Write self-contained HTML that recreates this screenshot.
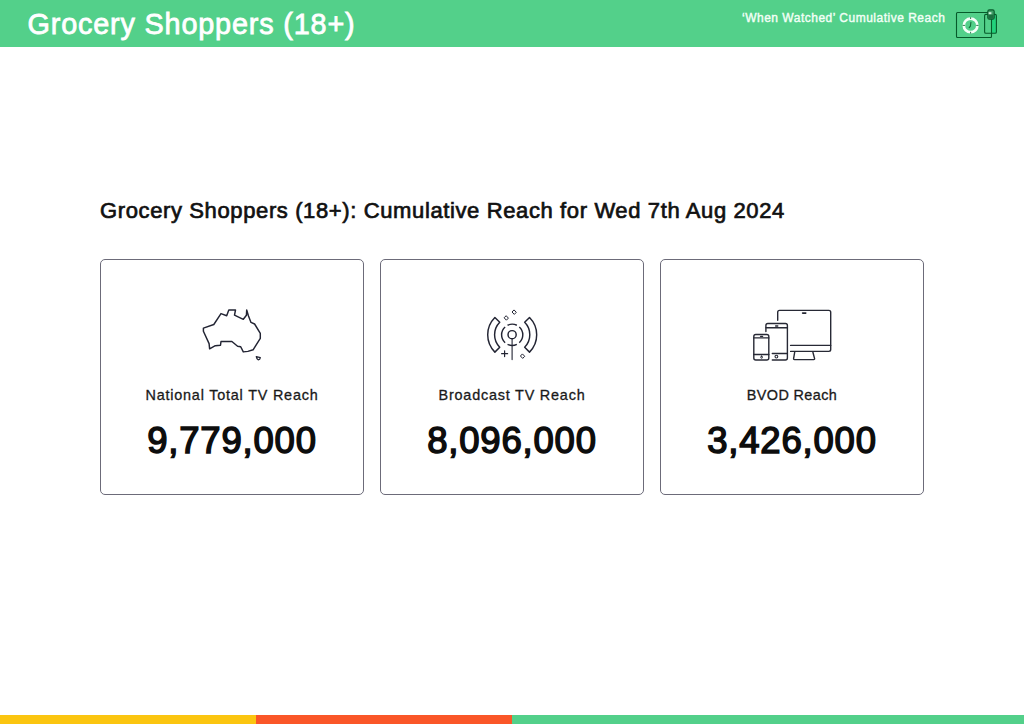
<!DOCTYPE html>
<html>
<head>
<meta charset="utf-8">
<style>
html,body{margin:0;padding:0;background:#fff;}
body{width:1024px;height:725px;position:relative;overflow:hidden;font-family:"Liberation Sans",Arial,sans-serif;}
.hdr{position:absolute;left:0;top:0;width:1024px;height:47px;background:#53d08a;}
.ttl{position:absolute;left:27.5px;top:5.6px;letter-spacing:0.83px;font-size:28.8px;line-height:36px;color:#fff;-webkit-text-stroke:0.8px #fff;white-space:nowrap;}
.sub{position:absolute;left:742px;top:11.3px;font-size:12px;line-height:14px;color:#f2fff6;letter-spacing:0.5px;-webkit-text-stroke:0.4px #f2fff6;white-space:nowrap;}
.hicon{position:absolute;left:950px;top:5px;}
.h2{position:absolute;left:100px;top:198.4px;font-size:22px;line-height:26px;color:#111;letter-spacing:0.62px;-webkit-text-stroke:0.7px #111;white-space:nowrap;}
.card{position:absolute;top:259px;width:262px;height:234px;border:1px solid #6c6b79;border-radius:5px;}
.c1{left:100px}.c2{left:380px}.c3{left:660px}
.lbl{position:absolute;left:0;width:262px;top:125.6px;text-align:center;font-size:14.4px;line-height:18px;color:#1a1a1a;letter-spacing:0.8px;-webkit-text-stroke:0.3px #1a1a1a;white-space:nowrap;}
.num{position:absolute;left:0;width:262px;top:160px;text-align:center;font-size:36.5px;line-height:42px;color:#0d0d0d;letter-spacing:0.8px;-webkit-text-stroke:1.5px #0d0d0d;white-space:nowrap;}
.ico{position:absolute;left:0;top:0;}
.bar{position:absolute;top:715px;height:9px;}
</style>
</head>
<body>
<div class="hdr">
  <div class="ttl">Grocery Shoppers (18+)</div>
  <div class="sub">‘When Watched’ Cumulative Reach</div>
  <svg class="hicon" width="60" height="40" viewBox="950 5 60 40">
    <rect x="991.8" y="15" width="4.6" height="18" fill="#22d27c"/>
    <rect x="956.5" y="12.5" width="35" height="25" rx="1" fill="none" stroke="#075a2b" stroke-width="1.1"/>
    <circle cx="970.6" cy="25.4" r="6.8" fill="none" stroke="#f6fff9" stroke-width="2.7"/>
    <path d="M962.6 25.4h2.4M976.2 25.4h2.4M970.6 17.2v1.8M970.6 31.8v1.8" stroke="#1b6b3c" stroke-width="0.9"/>
    <path d="M970.9 22.3L970.4 26.2L969.2 27.6" stroke="#136a36" stroke-width="1.1" fill="none" stroke-linecap="round"/>
    <rect x="984.6" y="14.4" width="11.8" height="18.9" rx="1.3" fill="none" stroke="#075a2b" stroke-width="1.1"/>
    <rect x="987.8" y="9.9" width="6.4" height="9.4" rx="1.6" fill="#3f9d66" stroke="#075a2b" stroke-width="1.1"/>
    <rect x="988.4" y="14.6" width="5.2" height="4.2" fill="#1c6f40"/>
    <rect x="988.6" y="12.2" width="2.8" height="2" fill="#e6fff0" opacity="0.85"/>
  </svg>
</div>

<div class="h2">Grocery Shoppers (18+): Cumulative Reach for Wed 7th Aug 2024</div>

<div class="card c1">
  <svg class="ico" width="262" height="120" viewBox="101 260 262 120">
    <path d="M203.4 328.1L213.8 324.5L221 313.6L226.7 315.7L228.8 310L235.5 310L234.5 315.2L243.3 319.3L246.4 315.2L246.7 310L248.4 315.7L251 322.4L254.6 324L260.3 333.3L260.3 338.4L253.1 349.8L247.9 351.4L243.3 351.9L240.7 346.7L237.6 346.2L231.9 341.5L221 341.5L220.5 345.2L215.3 345.7L209.6 348.8L209.1 343.6L203.4 331.2Z" fill="none" stroke="#222433" stroke-width="1.45" stroke-linejoin="round"/>
    <path d="M256.3 356.7L260.3 357.7Q260 359.8 258.3 359.8Q256.7 359.3 256.3 356.7Z" fill="none" stroke="#222433" stroke-width="1.3" stroke-linejoin="round"/>
  </svg>
  <div class="lbl">National Total TV Reach</div>
  <div class="num">9,779,000</div>
</div>

<div class="card c2">
  <svg class="ico" width="262" height="120" viewBox="381 260 262 120">
    <g fill="none" stroke="#222433" stroke-width="1.45" stroke-linejoin="round" stroke-linecap="round">
      <circle cx="512.1" cy="334.7" r="4.1"/>
      <path d="M512.1 338.8V359.6" stroke-width="1.1"/>
      <path stroke-linecap="butt" d="M507.55 325.27A10.6 10.6 0 0 1 516.85 325.27M519.29 326.92A10.6 10.6 0 0 1 519.29 342.68M516.85 344.33A10.6 10.6 0 0 1 507.55 344.33M505.11 342.68A10.6 10.6 0 0 1 505.11 326.92"/>
      <path d="M529.52 317.48A24.5 24.5 0 0 1 529.52 352.12L524.65 347.25A17.6 17.6 0 0 0 524.65 322.35Z"/>
      <path d="M494.88 352.12A24.5 24.5 0 0 1 494.88 317.48L499.75 322.35A17.6 17.6 0 0 0 499.75 347.25Z"/>
      <path d="M514.3 310.2L516.3 312.3L514.3 314.4L512.3 312.3Z" stroke-width="1"/>
      <path d="M506.4 316L508.4 318.1L506.4 320.2L504.4 318.1Z" stroke-width="1"/>
      <path d="M522.7 354.2L524.7 356.3L522.7 358.4L520.7 356.3Z" stroke-width="1"/>
      <path d="M501.6 353.7H507.6M504.6 350.8V356.6" stroke-width="1.2"/>
    </g>
  </svg>
  <div class="lbl">Broadcast TV Reach</div>
  <div class="num">8,096,000</div>
</div>

<div class="card c3">
  <svg class="ico" width="262" height="120" viewBox="661 260 262 120">
    <g fill="none" stroke="#272935" stroke-width="1.4" stroke-linejoin="round" stroke-linecap="round">
      <path d="M777.7 320.3V312.2Q777.7 310.4 779.5 310.4H828.9Q830.7 310.4 830.7 312.2V349.6Q830.7 351.4 828.9 351.4H790.6"/>
      <path d="M790.6 345.4H830.7"/>
      <path d="M802.6 313.1H805.8" stroke-width="1.6"/>
      <path d="M794.7 352.2L793.6 358.6Q793.5 359.6 794.5 359.6H813.7Q814.7 359.6 814.6 358.6L812.9 352.2"/>
      <path d="M765.9 331.6V325.5Q765.9 323.5 767.9 323.5H785.4Q787.4 323.5 787.4 325.5V358Q787.4 360 785.4 360H772.3"/>
      <path d="M766 327.8H787.4M772.3 353.5H787.4"/>
      <path d="M775.6 326H777.8" stroke-width="1.3"/>
      <circle cx="776.4" cy="356.6" r="1.4" stroke-width="1.1"/>
      <path d="M755.8 334.5H766.8Q768.8 334.5 768.8 336.5V358Q768.8 360 766.8 360H755.8Q753.8 360 753.8 358V336.5Q753.8 334.5 755.8 334.5Z"/>
      <path d="M753.8 337.9H768.8M753.8 354.5H768.8"/>
      <path d="M760.5 336.3H762.7" stroke-width="1.2"/>
      <rect x="760.8" y="356.2" width="1.6" height="2" rx="0.6" stroke-width="1"/>
    </g>
  </svg>
  <div class="lbl" style="letter-spacing:0.4px">BVOD Reach</div>
  <div class="num">3,426,000</div>
</div>

<div class="bar" style="left:0;width:256px;background:#fbc510;"></div>
<div class="bar" style="left:256px;width:256px;background:#fa5628;"></div>
<div class="bar" style="left:512px;width:512px;background:#53d08a;"></div>
</body>
</html>
